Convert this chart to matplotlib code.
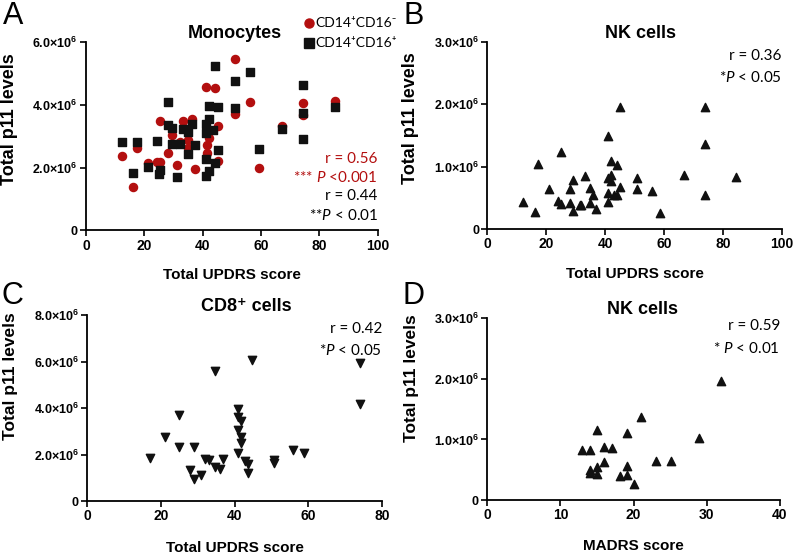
import matplotlib.pyplot as plt

plt.rcParams["font.family"] = ["Liberation Sans", "DejaVu Sans"]
plt.rcParams["mathtext.fontset"] = "custom"
plt.rcParams["mathtext.rm"] = "Lato"
plt.rcParams["mathtext.it"] = "Lato:italic"
plt.rcParams["mathtext.bf"] = "Liberation Sans:bold"

RED = "#b30f0f"
NOTE_FONT = ["Lato", "DejaVu Sans"]

# A: monocytes, total UPDRS vs total p11 (x10^6)
a_neg_x = [12.4, 16.2, 17.4, 21.3, 24.2, 25.3, 25.3, 28.2, 29.3, 31.3, 32.2, 33.3, 35.0, 35.0, 36.2,
           37.3, 41.1, 44.2, 41.3, 41.3, 42.2, 45.3, 45.3, 51.0, 51.0, 56.2, 59.4, 67.2, 74.2, 74.2, 85.3]
a_neg_y = [2.37, 1.38, 2.63, 2.13, 2.17, 2.17, 3.48, 2.48, 3.04, 2.08, 2.82, 3.48, 2.88, 2.62, 3.55,
           1.94, 4.58, 4.53, 2.72, 2.45, 2.95, 3.32, 2.20, 5.48, 3.70, 4.08, 1.97, 3.32, 4.05, 3.67, 4.13]
a_pos_x = [12.4, 16.2, 17.4, 21.3, 24.2, 25.1, 25.2, 28.2, 28.2, 29.3, 29.3, 31.3, 32.2, 33.3, 35.0,
           35.0, 36.2, 37.3, 41.1, 41.1, 42.2, 42.2, 43.4, 41.1, 41.1, 42.2, 44.2, 45.3, 45.3, 44.2,
           51.0, 51.0, 56.2, 59.4, 67.2, 74.2, 74.2, 74.2, 85.3]
a_pos_y = [2.80, 1.83, 2.81, 2.02, 2.84, 1.78, 1.92, 4.10, 3.35, 3.27, 2.74, 1.70, 2.74, 3.23, 3.12,
           2.43, 3.38, 2.72, 3.38, 3.11, 3.54, 3.96, 3.19, 2.27, 1.73, 1.90, 2.16, 3.94, 2.56, 5.24,
           4.76, 3.89, 5.06, 2.59, 3.22, 4.63, 3.75, 2.91, 3.92]

# B: NK cells, total UPDRS vs total p11
b_x = [12.0, 16.0, 17.2, 20.9, 23.9, 25.1, 25.1, 27.9, 27.9, 29.0, 29.0, 31.3, 31.9, 33.0, 34.9,
       34.9, 36.0, 36.9, 40.9, 40.9, 40.9, 40.9, 42.0, 42.0, 42.0, 43.1, 43.9, 43.9, 44.9, 44.9,
       50.8, 50.8, 55.8, 58.8, 66.7, 73.8, 73.8, 73.8, 84.4]
b_y = [0.44, 0.27, 1.04, 0.64, 0.45, 1.24, 0.40, 0.64, 0.42, 0.78, 0.29, 0.38, 0.38, 0.85, 0.65,
       0.41, 0.54, 0.32, 1.49, 0.81, 0.57, 0.43, 1.09, 0.86, 0.77, 0.54, 1.02, 0.54, 1.95, 0.68,
       0.81, 0.64, 0.61, 0.25, 0.86, 1.95, 1.36, 0.54, 0.84]

# C: CD8+ cells, total UPDRS vs total p11
c_x = [17.0, 21.1, 24.9, 24.9, 27.9, 29.0, 29.0, 30.9, 32.0, 32.9, 34.7, 34.7, 35.9, 36.8, 40.9,
       40.9, 40.9, 40.9, 41.8, 41.8, 41.8, 42.7, 43.7, 43.7, 44.8, 50.7, 50.7, 55.7, 58.7, 73.9, 73.9]
c_y = [1.86, 2.77, 3.70, 2.34, 1.33, 2.34, 0.93, 1.12, 1.81, 1.76, 5.59, 1.45, 1.38, 1.81, 3.96,
       3.60, 3.05, 2.08, 3.44, 2.77, 2.48, 1.73, 1.59, 1.19, 6.06, 1.76, 1.62, 2.19, 2.07, 5.92, 4.16]

# D: NK cells, MADRS vs total p11
d_x = [13.0, 14.0, 14.0, 14.0, 15.0, 15.0, 15.0, 16.0, 16.0, 17.0, 18.1, 19.1, 19.1, 19.1, 20.1,
       21.0, 23.1, 25.1, 29.0, 32.0]
d_y = [0.83, 0.82, 0.50, 0.44, 1.15, 0.55, 0.43, 0.87, 0.62, 0.85, 0.39, 1.10, 0.56, 0.42, 0.26,
       1.37, 0.64, 0.64, 1.02, 1.97]

yticks_a = [0, 2, 4, 6]
ylabels_a = ["0", r"$\mathbf{2.0{\times}10^{6}}$", r"$\mathbf{4.0{\times}10^{6}}$", r"$\mathbf{6.0{\times}10^{6}}$"]
yticks_b = [0, 1, 2, 3]
ylabels_b = ["0", r"$\mathbf{1.0{\times}10^{6}}$", r"$\mathbf{2.0{\times}10^{6}}$", r"$\mathbf{3.0{\times}10^{6}}$"]
yticks_c = [0, 2, 4, 6, 8]
ylabels_c = ["0", r"$\mathbf{2.0{\times}10^{6}}$", r"$\mathbf{4.0{\times}10^{6}}$",
             r"$\mathbf{6.0{\times}10^{6}}$", r"$\mathbf{8.0{\times}10^{6}}$"]


def style(ax, xmax, xstep, ymax, yticks, ylabels, xlabel, ylab_y, xlab_y, ylab_size):
    ax.set_xlim(0, xmax)
    ax.set_ylim(0, ymax)
    ax.set_xticks(range(0, xmax + 1, xstep))
    ax.set_yticks(yticks, ylabels)
    for s in ["top", "right"]:
        ax.spines[s].set_visible(False)
    for s in ["left", "bottom"]:
        ax.spines[s].set_linewidth(1.3)
    ax.tick_params(length=4, width=1.2, pad=2)
    for t in ax.get_xticklabels():
        t.set_fontweight("bold")
        t.set_fontsize(10)
    for t in ax.get_yticklabels():
        t.set_fontweight("bold")
        t.set_fontsize(9)
    ax.set_xlabel(xlabel, fontsize=11, fontweight="bold")
    ax.set_ylabel("Total p11 levels", fontsize=ylab_size, fontweight="bold")
    ax.yaxis.set_label_coords(-0.233, ylab_y)
    ax.xaxis.set_label_coords(0.5, xlab_y)


def notes(ax, lines, x=1.0, y0=0.9, dy=0.115):
    for i, (txt, col) in enumerate(lines):
        ax.text(x, y0 - i * dy, txt, transform=ax.transAxes, ha="right", va="center",
                fontsize=11, color=col, family=NOTE_FONT)


fig = plt.figure(figsize=(7.93, 5.56), dpi=100)

# A
ax = fig.add_axes([0.1085, 0.586, 0.368, 0.338])
ax.scatter(a_neg_x, a_neg_y, s=34, marker="o", color=RED, zorder=3)
ax.scatter(a_pos_x, a_pos_y, s=38, marker="s", color="#111111", zorder=3)
style(ax, 100, 20, 6, yticks_a, ylabels_a, "Total UPDRS score", 0.59, -0.2, 13)
ax.set_title("Monocytes", fontsize=13, fontweight="bold", x=0.51, pad=3)
ax.plot([0.765], [1.1], "o", color=RED, ms=6.5, transform=ax.transAxes, clip_on=False)
ax.plot([0.765], [0.995], "s", color="#111111", ms=6.5, transform=ax.transAxes, clip_on=False)
ax.text(0.785, 1.1, "CD14⁺CD16⁻", transform=ax.transAxes, va="center", fontsize=10, family=NOTE_FONT)
ax.text(0.785, 0.995, "CD14⁺CD16⁺", transform=ax.transAxes, va="center", fontsize=10, family=NOTE_FONT)
notes(ax, [("r = 0.56", RED), (r"*** $\it{P}$ <0.001", RED),
           ("r = 0.44", "black"), (r"**$\it{P}$ < 0.01", "black")], y0=0.38, dy=0.1)

# B
ax = fig.add_axes([0.6147, 0.588, 0.371, 0.337])
ax.scatter(b_x, b_y, s=36, marker="^", color="#111111", zorder=3)
style(ax, 100, 20, 3, yticks_b, ylabels_b, "Total UPDRS score", 0.59, -0.2, 13)
ax.set_title("NK cells", fontsize=13, fontweight="bold", x=0.52, pad=3)
notes(ax, [("r = 0.36", "black"), (r"*$\it{P}$ < 0.05", "black")], y0=0.925, dy=0.115)

# C
ax = fig.add_axes([0.110, 0.0989, 0.372, 0.3345])
ax.scatter(c_x, c_y, s=36, marker="v", color="#111111", zorder=3)
style(ax, 80, 20, 8, yticks_c, ylabels_c, "Total UPDRS score", 0.67, -0.215, 12.5)
ax.set_title("CD8⁺ cells", fontsize=13, fontweight="bold", x=0.54, pad=3)
notes(ax, [("r = 0.42", "black"), (r"*$\it{P}$ < 0.05", "black")], y0=0.925, dy=0.115)

# D
ax = fig.add_axes([0.6145, 0.1007, 0.369, 0.327])
ax.scatter(d_x, d_y, s=36, marker="^", color="#111111", zorder=3)
style(ax, 40, 10, 3, yticks_b, ylabels_b, "MADRS score", 0.67, -0.215, 12.5)
ax.set_title("NK cells", fontsize=13, fontweight="bold", x=0.53, pad=3)
notes(ax, [("r = 0.59", "black"), (r"* $\it{P}$ < 0.01", "black")], y0=0.955, dy=0.12)

for lab, x, y in [("A", 0.016, 0.972), ("B", 0.521, 0.972), ("C", 0.016, 0.468), ("D", 0.521, 0.468)]:
    fig.text(x, y, lab, fontsize=22, ha="center", va="center")

fig.savefig("out.png", dpi=100)
